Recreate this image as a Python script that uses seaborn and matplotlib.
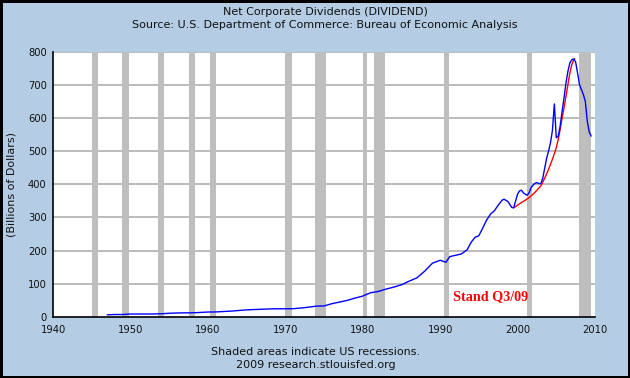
import numpy as np
import pandas as pd
import matplotlib
matplotlib.use("Agg")
import matplotlib.pyplot as plt
import seaborn as sns

# ---- data ----
blue_years = [1947, 1948, 1949, 1950, 1951, 1952, 1953, 1954, 1955, 1956, 1957, 1958, 1959,
              1960, 1961, 1962, 1963, 1964, 1965, 1966, 1967, 1968, 1969, 1970, 1971, 1972,
              1973, 1974, 1975, 1976, 1977, 1978, 1979, 1980, 1981, 1982, 1983, 1984, 1985,
              1986, 1987, 1988, 1989, 1990, 1990.75, 1991.25, 1992, 1992.75, 1993.5, 1994,
              1994.5, 1995, 1995.5, 1996, 1996.5, 1997, 1997.5, 1998, 1998.25, 1998.75,
              1999.25, 1999.5, 1999.75, 2000, 2000.25, 2000.5, 2000.75, 2001, 2001.25,
              2001.5, 2001.75, 2002, 2002.25, 2002.5, 2002.75, 2003, 2003.25, 2003.5,
              2003.75, 2004, 2004.25, 2004.5, 2004.75, 2005, 2005.25, 2005.5, 2005.75,
              2006, 2006.25, 2006.5, 2006.75, 2007, 2007.25, 2007.5, 2007.75, 2008,
              2008.25, 2008.5, 2008.75, 2009, 2009.25, 2009.5]
blue_values = [6.5, 7.5, 7.5, 9.0, 9.0, 9.0, 9.2, 9.8, 11.2, 12.1, 12.6, 12.6, 13.7,
               15.0, 15.2, 16.5, 17.8, 19.6, 21.5, 22.5, 23.4, 24.3, 24.8, 24.8, 25.0, 26.9,
               29.6, 32.7, 33.3, 40, 45, 50, 57, 63, 73, 77, 84, 90, 97,
               108, 118, 138, 162, 171, 165, 182, 186, 190, 203, 225,
               240, 245, 268, 292, 310, 320, 337, 352, 355, 348,
               330, 329, 350, 370, 380, 382, 374, 370, 367,
               375, 390, 397, 403, 405, 402, 402, 418, 448,
               478, 500, 525, 562, 642, 540, 545, 575, 620,
               660, 705, 740, 765, 775, 778, 768, 735, 700,
               685, 670, 650, 590, 558, 545]

red_years = [1999.5, 2000, 2000.5, 2001, 2001.5, 2002, 2002.5, 2003, 2003.5, 2004, 2004.5,
             2005, 2005.25, 2005.5, 2005.75, 2006, 2006.25, 2006.5, 2006.75, 2007, 2007.25, 2007.4]
red_values = [329, 337, 345, 352, 360, 370, 382, 395, 418, 445, 475,
              510, 535, 565, 600, 630, 665, 700, 735, 760, 775, 778]

rec_start = [1945.1, 1948.9, 1953.5, 1957.6, 1960.3, 1969.9, 1973.9, 1980.0, 1981.5, 1990.5, 2001.2, 2007.9]
rec_end = [1945.8, 1949.8, 1954.4, 1958.3, 1961.1, 1970.9, 1975.2, 1980.5, 1982.9, 1991.2, 2001.9, 2009.5]

x_ticks = [1940, 1950, 1960, 1970, 1980, 1990, 2000, 2010]
y_ticks = [0, 100, 200, 300, 400, 500, 600, 700, 800]

title_lines = ["Net Corporate Dividends (DIVIDEND)",
               "Source: U.S. Department of Commerce: Bureau of Economic Analysis"]
foot_lines = ["Shaded areas indicate US recessions.", "2009 research.stlouisfed.org"]
y_label = "(Billions of Dollars)"
note = "Stand Q3/09"

# ---- style ----
sns.set_style("white")
plt.rcParams['font.family'] = ['DejaVu Sans']

bg = "#B4CDE4"
txt = "#111111"
fig = plt.figure(figsize=(6.3, 3.78), dpi=100, facecolor=bg)
fig.patch.set_edgecolor("black")
fig.patch.set_linewidth(2.5)
ax = fig.add_axes([53 / 630, 61 / 378, (595 - 53) / 630, (317 - 51.5) / 378])
ax.set_facecolor("white")

for s, e in zip(rec_start, rec_end):
    ax.axvspan(s, e, color="#BEBEBE", lw=0, zorder=1)

for yv in y_ticks[1:]:
    ax.axhline(yv, color="#A8A8A8", lw=1.1, zorder=0.5)

blue_df = pd.DataFrame({"year": blue_years, "value": blue_values})
red_df = pd.DataFrame({"year": red_years, "value": red_values})
sns.lineplot(data=red_df, x="year", y="value", color="#FF0000", lw=1.0, ax=ax, zorder=3)
sns.lineplot(data=blue_df, x="year", y="value", color="#0000FF", lw=1.0, ax=ax, zorder=4)

ax.set_xlim(1940, 2010)
ax.set_ylim(0, 800)
ax.set_xticks(x_ticks)
ax.set_yticks(y_ticks)
ax.tick_params(axis="both", direction="in", length=4, width=1, color="black",
               labelsize=7.2, labelcolor=txt)
ax.tick_params(axis="x", pad=6)
ax.tick_params(axis="y", pad=4.5)
ax.set_xlabel("")
ax.set_ylabel(y_label, fontsize=8, color=txt, labelpad=8)
for side in ["top", "right"]:
    ax.spines[side].set_visible(False)
for side in ["left", "bottom"]:
    ax.spines[side].set_color("black")
    ax.spines[side].set_linewidth(1.2)
ax.grid(False)

ax.text(1991.6, 60, note, color="#FF0000", fontsize=10.2, fontweight="bold",
        family="Liberation Serif", va="center", ha="left", zorder=5)

fig.text(325 / 630, 1 - 11.7 / 378, title_lines[0], ha="center", va="center", fontsize=8, color=txt)
fig.text(325 / 630, 1 - 25.5 / 378, title_lines[1], ha="center", va="center", fontsize=8, color=txt)
fig.text(316 / 630, 1 - 351.7 / 378, foot_lines[0], ha="center", va="center", fontsize=8, color=txt)
fig.text(316 / 630, 1 - 365 / 378, foot_lines[1], ha="center", va="center", fontsize=8, color=txt)

fig.savefig("out.png", dpi=100, facecolor=bg, edgecolor="black")
